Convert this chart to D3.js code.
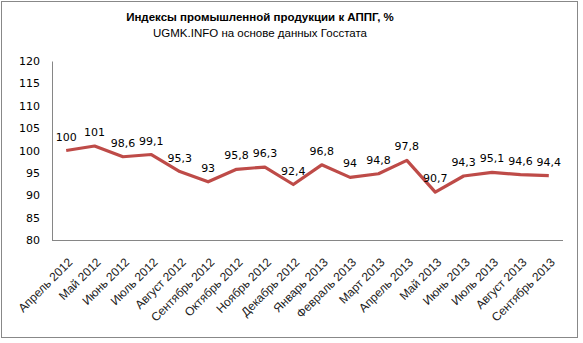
<!DOCTYPE html>
<html><head><meta charset="utf-8">
<script src="https://cdn.jsdelivr.net/npm/d3@7"></script>
<style>body{margin:0;background:#fff}</style>
</head><body>
<script>
const categories = ["Апрель 2012","Май 2012","Июнь 2012","Июль 2012","Август 2012","Сентябрь 2012","Октябрь 2012","Ноябрь 2012","Декабрь 2012","Январь 2013","Февраль 2013","Март 2013","Апрель 2013","Май 2013","Июнь 2013","Июль 2013","Август 2013","Сентябрь 2013"];
const values = [100,101,98.6,99.1,95.3,93,95.8,96.3,92.4,96.8,94,94.8,97.8,90.7,94.3,95.1,94.6,94.4];
const yTicks = [80,85,90,95,100,105,110,115,120];
const titleLines = ["Индексы промышленной  продукции к АППГ, %","UGMK.INFO на основе  данных Госстата"];

const W = 583, H = 343;
const svg = d3.select("body").append("svg").attr("width", W).attr("height", H);
svg.append("rect").attr("x",1.5).attr("y",1.5).attr("width",576).attr("height",336)
  .attr("fill","#fff").attr("stroke","#888").attr("stroke-width",1);

const x = d3.scaleBand().domain(categories).range([52, 563]);
const y = d3.scaleLinear().domain([80,120]).range([240, 61]);

// title
svg.append("text").attr("x",260).attr("y",21).attr("text-anchor","middle")
  .attr("font-family","Liberation Sans, Arial, sans-serif").attr("font-weight","bold").attr("font-size",11.5)
  .text(titleLines[0]);
svg.append("text").attr("x",260).attr("y",37).attr("text-anchor","middle")
  .attr("font-family","Liberation Sans, Arial, sans-serif").attr("font-size",11.5)
  .text(titleLines[1]);

// y axis
const yAxis = d3.axisLeft(y).tickValues(yTicks).tickSize(0).tickPadding(12).tickFormat(d3.format("d"));
const gy = svg.append("g").attr("transform","translate(52,0)").call(yAxis);
gy.select(".domain").attr("stroke","#868686");
gy.selectAll("text").attr("font-family","DejaVu Sans, Verdana, sans-serif").attr("font-size",11).attr("fill","#000");

// x axis
const xAxis = d3.axisBottom(x).tickSize(0).tickPadding(0);
const gx = svg.append("g").attr("transform","translate(0,240)").call(xAxis);
gx.select(".domain").attr("stroke","#868686").attr("d","M52,0.5H563");
gx.selectAll("text")
  .attr("font-family","Liberation Sans, Arial, sans-serif").attr("font-size",12).attr("fill","#222")
  .attr("text-anchor","end").attr("dy",null).attr("y",null)
  .attr("transform","translate(7,23) rotate(-45)");

// line
const line = d3.line().x((d,i)=>x(categories[i]) + x.bandwidth()/2).y(d=>y(d));
svg.append("path").datum(values).attr("d",line).attr("fill","none")
  .attr("stroke","#BE4B48").attr("stroke-width",3.2).attr("stroke-linejoin","round");

// labels
const fmt = v => String(v).replace(".", ",");
svg.selectAll(".lbl").data(values).enter().append("text")
  .attr("x",(d,i)=>x(categories[i]) + x.bandwidth()/2)
  .attr("y",d=>y(d)-10)
  .attr("text-anchor","middle")
  .attr("font-family","DejaVu Sans, Verdana, sans-serif").attr("font-size",11)
  .text(fmt);
</script>
</body></html>
